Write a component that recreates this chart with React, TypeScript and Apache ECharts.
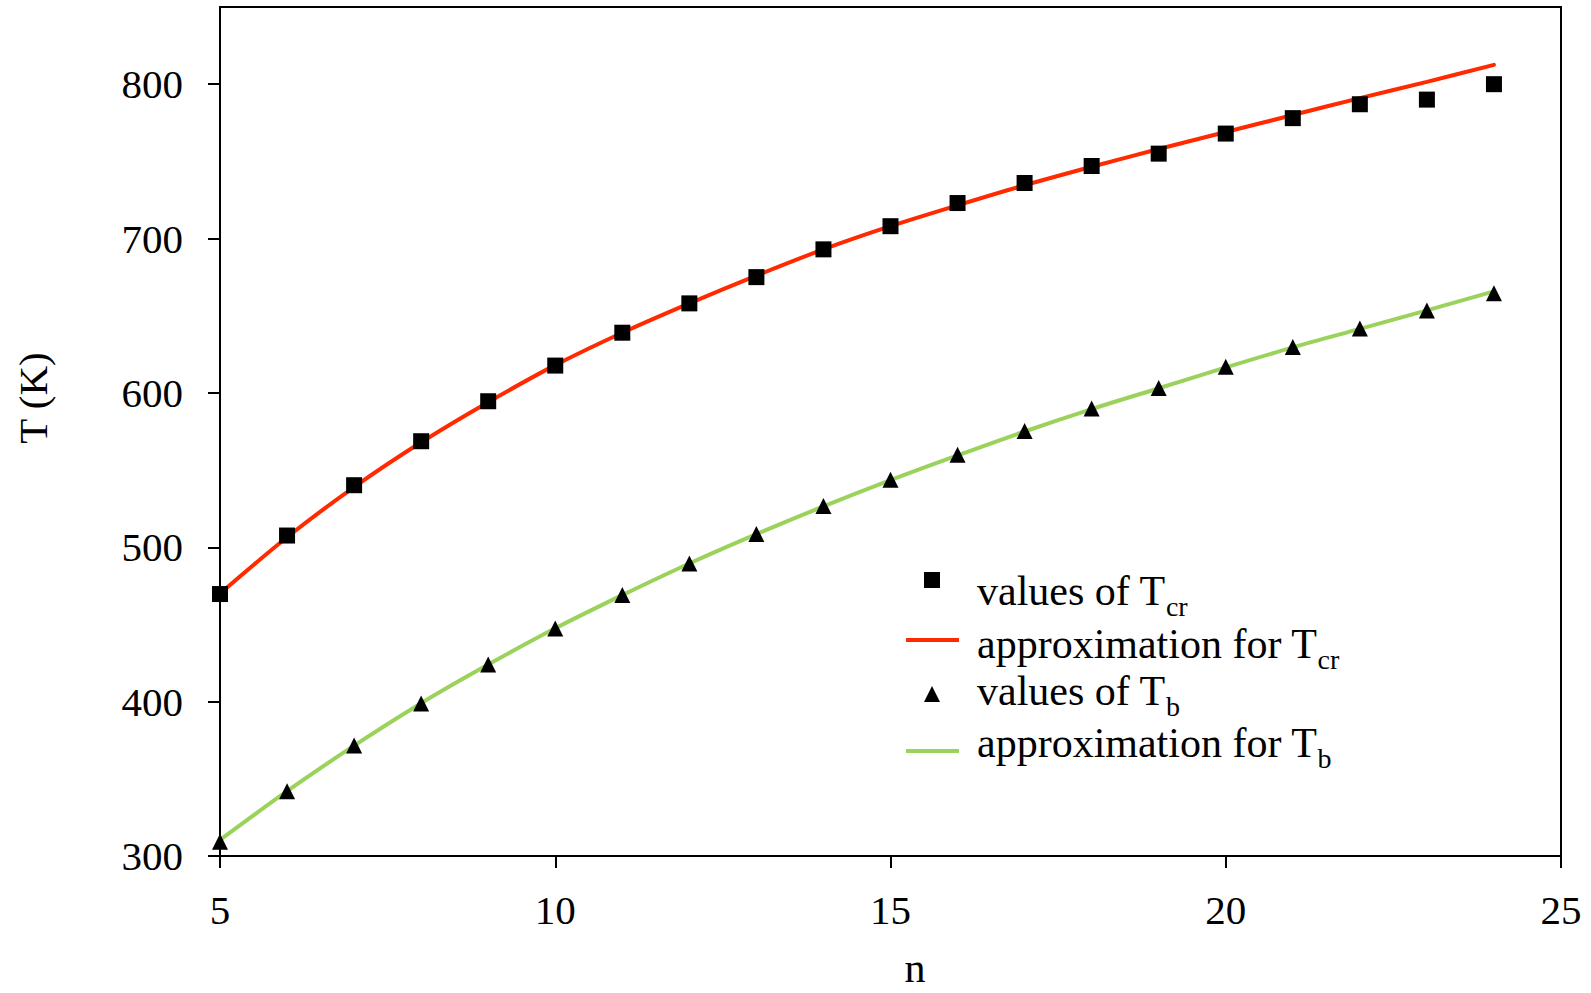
import React, { useEffect, useRef } from "react";
import * as echarts from "echarts";

// Number of carbon atoms in the n-alkane chain
const carbonNumbers = [5, 6, 7, 8, 9, 10, 11, 12, 13, 14, 15, 16, 17, 18, 19, 20, 21, 22, 23, 24];

// Critical temperatures, K
const criticalTemps = [469.7, 507.6, 540.2, 568.7, 594.6, 617.7, 639, 658, 675, 693, 708, 723, 736, 747, 755, 768, 778, 787, 790, 800];

// Fitted critical temperature curve, K
const criticalFit = [470, 506.5, 539, 568, 594, 618, 639, 658, 676, 693, 708, 721.5, 734.5, 746.5, 758, 769, 780, 791, 801.5, 812.5];

// Normal boiling temperatures, K
const boilingTemps = [309.2, 341.9, 371.6, 398.8, 424.0, 447.3, 469.1, 489.5, 508.6, 526.7, 543.8, 560.0, 575.3, 589.9, 603.1, 616.9, 629.7, 641.8, 653.4, 664.5];

// Fitted boiling temperature curve, K
const boilingFit = [310.4, 342, 371.5, 399, 424, 447.5, 469, 489.5, 508.5, 526.5, 543.5, 559.5, 575, 589.5, 603, 616.5, 629.5, 641.5, 653.5, 665.8];

const xTicks = [5, 10, 15, 20, 25];
const yTicks = [300, 400, 500, 600, 700, 800];

const FONT = "'Liberation Serif', 'Times New Roman', Times, serif";
const RED = "#FF2A00";
const GREEN = "#9BD25C";

const NAMES = {
  tcr: "values of Tcr",
  tcrFit: "approximation for Tcr",
  tb: "values of Tb",
  tbFit: "approximation for Tb",
};

const LABELS: Record<string, string> = {
  [NAMES.tcr]: "{m|values of T}{s|cr}",
  [NAMES.tcrFit]: "{m|approximation for T}{s|cr}",
  [NAMES.tb]: "{m|values of T}{s|b}",
  [NAMES.tbFit]: "{m|approximation for T}{s|b}",
};

const richText = {
  m: { fontSize: 42, fontFamily: FONT, color: "#000", verticalAlign: "top" },
  s: { fontSize: 28, fontFamily: FONT, color: "#000", verticalAlign: "top", padding: [22, 0, 0, 0] },
};

function legendEntry(
  name: string,
  icon: string,
  left: number,
  top: number,
  w: number,
  h: number,
  pad: number[]
) {
  return {
    data: [{ name, icon }],
    left,
    top,
    padding: 0,
    itemWidth: w,
    itemHeight: h,
    selectedMode: false,
    itemStyle: { borderWidth: 0, opacity: 1 },
    formatter: (n: string) => LABELS[n],
    textStyle: { rich: richText, padding: pad, color: "#000" },
  };
}

export default function App() {
  const ref = useRef<HTMLDivElement>(null);

  useEffect(() => {
    if (!ref.current) return;
    const chart = echarts.init(ref.current, null, { renderer: "svg" });

    const pairs = (ys: number[]) => carbonNumbers.map((n, i) => [n, ys[i]]);

    chart.setOption({
      animation: false,
      backgroundColor: "#fff",
      grid: {
        left: 220,
        top: 7,
        right: 30,
        bottom: 137,
        show: true,
        borderColor: "#000",
        borderWidth: 2,
        backgroundColor: "transparent",
      },
      xAxis: {
        type: "value",
        min: 5,
        max: 25,
        interval: 5,
        axisLine: { show: true, lineStyle: { color: "#000", width: 2 } },
        axisTick: { show: true, length: 12, lineStyle: { color: "#000", width: 2 }, customValues: xTicks },
        axisLabel: { fontSize: 41, fontFamily: FONT, color: "#000", margin: 33, customValues: xTicks },
        splitLine: { show: false },
      },
      yAxis: {
        type: "value",
        min: 300,
        max: 850,
        interval: 100,
        axisLine: { show: true, lineStyle: { color: "#000", width: 2 } },
        axisTick: { show: true, length: 12, lineStyle: { color: "#000", width: 2 }, customValues: yTicks },
        axisLabel: { fontSize: 41, fontFamily: FONT, color: "#000", margin: 37, customValues: yTicks },
        splitLine: { show: false },
      },
      legend: [
        legendEntry(NAMES.tcr, "rect", 924, 570, 16, 16, [30, 0, 0, 32]),
        legendEntry(NAMES.tcrFit, "rect", 906, 623, 53, 4, [16, 0, 0, 13]),
        legendEntry(NAMES.tb, "triangle", 924, 670, 16, 16, [2, 0, 0, 32]),
        legendEntry(NAMES.tbFit, "rect", 906, 722, 53, 4, [0, 0, 8, 13]),
      ],
      graphic: [
        {
          type: "text",
          x: 33,
          y: 398,
          rotation: Math.PI / 2,
          style: { text: "T (K)", font: `41px ${FONT}`, fill: "#000", align: "center", verticalAlign: "middle" },
        },
        {
          type: "text",
          x: 915,
          y: 968,
          style: {
            text: "n",
            font: `42px ${FONT}`,
            lineHeight: 34,
            fill: "#000",
            align: "center",
            verticalAlign: "middle",
          },
        },
      ],
      series: [
        {
          name: NAMES.tcrFit,
          type: "line",
          data: pairs(criticalFit),
          symbol: "none",
          smooth: 0.3,
          color: RED,
          itemStyle: { color: RED },
          lineStyle: { color: RED, width: 4, cap: "round" },
          z: 1,
        },
        {
          name: NAMES.tbFit,
          type: "line",
          data: pairs(boilingFit),
          symbol: "none",
          smooth: 0.3,
          color: GREEN,
          itemStyle: { color: GREEN },
          lineStyle: { color: GREEN, width: 4, cap: "round" },
          z: 1,
        },
        {
          name: NAMES.tcr,
          type: "scatter",
          data: pairs(criticalTemps),
          symbol: "rect",
          symbolSize: 16,
          color: "#000",
          itemStyle: { color: "#000", opacity: 1 },
          z: 3,
        },
        {
          name: NAMES.tb,
          type: "scatter",
          data: pairs(boilingTemps),
          symbol: "triangle",
          symbolSize: 16,
          color: "#000",
          itemStyle: { color: "#000", opacity: 1 },
          z: 3,
        },
      ],
    });

    return () => chart.dispose();
  }, []);

  return (
    <div
      ref={ref}
      style={{ position: "absolute", left: 0, top: 0, width: 1591, height: 993 }}
    />
  );
}
